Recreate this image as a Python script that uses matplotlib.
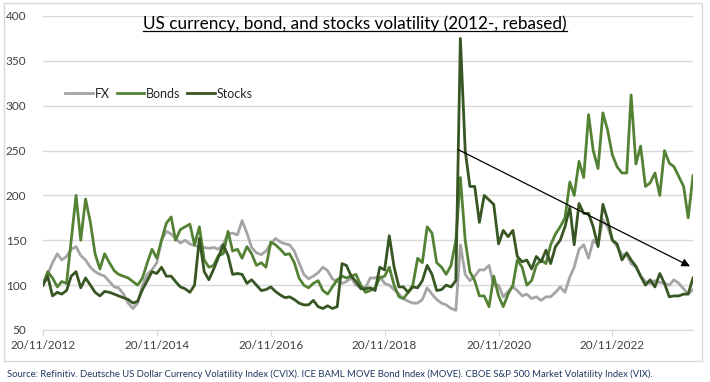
import matplotlib
matplotlib.use('Agg')
import matplotlib.pyplot as plt
import matplotlib.dates as mdates
from matplotlib.lines import Line2D
from matplotlib.patches import Rectangle
import pandas as pd

plt.rcParams['font.family'] = ['Lato', 'DejaVu Sans']

# monthly readings (20th of each month), rebased to 100 at 20/11/2012
start_date = '2012-11-20'

fx = [102, 112, 125, 135, 128, 132, 140, 143, 133, 128, 120, 115, 112, 110, 104, 98, 97, 90, 80, 74,
      80, 100, 112, 117, 125, 150, 160, 157, 152, 147, 150, 146, 144, 143, 142, 141, 142, 140, 146, 157,
      158, 156, 172, 158, 142, 136, 134, 138, 146, 152, 148, 146, 145, 138, 125, 112, 107, 110, 114, 120,
      116, 107, 104, 102, 104, 108, 100, 98, 97, 108, 108, 110, 102, 100, 95, 90, 85, 82, 80, 80,
      84, 97, 90, 84, 80, 78, 74, 72, 145, 112, 105, 110, 117, 117, 122, 100, 100, 87, 93, 98,
      94, 88, 90, 85, 87, 83, 87, 87, 92, 98, 92, 109, 120, 140, 145, 130, 150, 145, 173, 165,
      150, 143, 134, 134, 124, 120, 110, 104, 102, 105, 103, 102, 100, 106, 102, 96, 90, 95]

bonds = [100, 115, 108, 98, 104, 102, 150, 200, 150, 196, 170, 135, 118, 135, 125, 116, 112, 110, 108, 104,
         100, 108, 125, 140, 130, 150, 169, 176, 150, 162, 165, 168, 145, 165, 128, 120, 122, 133, 135, 160,
         138, 140, 130, 143, 135, 122, 125, 120, 148, 145, 140, 134, 135, 125, 108, 100, 97, 102, 105, 94,
         90, 98, 106, 110, 108, 110, 112, 100, 92, 94, 97, 108, 110, 120, 100, 87, 85, 92, 100, 130,
         125, 165, 158, 125, 120, 112, 122, 150, 220, 150, 115, 105, 88, 88, 76, 110, 88, 76, 90, 100,
         128, 120, 100, 105, 122, 128, 124, 145, 157, 165, 175, 215, 200, 238, 220, 290, 250, 230, 292, 273,
         245, 232, 225, 225, 312, 235, 255, 210, 214, 225, 200, 250, 236, 232, 221, 210, 175, 222]

stocks = [100, 110, 88, 92, 90, 94, 110, 115, 97, 108, 100, 92, 88, 93, 92, 90, 88, 86, 84, 80,
          82, 95, 105, 115, 113, 120, 110, 110, 104, 98, 96, 92, 100, 152, 115, 106, 118, 131, 145, 133,
          112, 113, 112, 102, 106, 100, 94, 95, 98, 93, 89, 86, 87, 84, 80, 78, 78, 83, 76, 74,
          77, 74, 76, 124, 122, 110, 104, 96, 96, 97, 94, 120, 117, 155, 120, 98, 98, 92, 98, 97,
          105, 122, 112, 94, 95, 100, 98, 105, 375, 250, 210, 210, 170, 200, 195, 190, 146, 161, 154, 161,
          132, 126, 128, 118, 132, 126, 139, 124, 143, 150, 165, 187, 145, 191, 180, 180, 165, 143, 190, 173,
          150, 146, 128, 136, 128, 121, 110, 100, 106, 98, 113, 102, 87, 88, 88, 90, 90, 108]

tick_dates = ['2012-11-20', '2014-11-20', '2016-11-20', '2018-11-20', '2020-11-20', '2022-11-20']

# trend arrow drawn on the chart
arrow_from = ('2020-03-07', 251)
arrow_to = ('2024-04-01', 121)

title = 'US currency, bond, and stocks volatility (2012-, rebased)'
source = ('Source: Refinitiv. Deutsche US Dollar Currency Volatility Index (CVIX). '
          'ICE BAML MOVE Bond Index (MOVE). CBOE S&P 500 Market Volatility Index (VIX).')

dates = pd.date_range(start_date, periods=len(fx), freq=pd.DateOffset(months=1))

fig = plt.figure(figsize=(7.1, 3.82), dpi=100)
ax = fig.add_axes([43 / 710, 1 - 330 / 382, 650 / 710, 314 / 382])

ax.plot(dates, fx, color='#A5A5A5', lw=2.0, label='FX')
ax.plot(dates, bonds, color='#548235', lw=2.0, label='Bonds')
ax.plot(dates, stocks, color='#375623', lw=2.0, label='Stocks')

ax.annotate('', xy=(pd.Timestamp(arrow_to[0]), arrow_to[1]),
            xytext=(pd.Timestamp(arrow_from[0]), arrow_from[1]),
            arrowprops=dict(arrowstyle='-|>', color='black', lw=0.9, mutation_scale=12,
                            shrinkA=0, shrinkB=0))

ax.set_ylim(50, 400)
ax.set_yticks(range(50, 401, 50))
ax.set_xlim(dates[0], dates[-1])
ax.set_xticks(pd.to_datetime(tick_dates))
ax.xaxis.set_major_formatter(mdates.DateFormatter('%d/%m/%Y'))

ax.grid(axis='y', color='#D9D9D9', lw=1)
ax.set_axisbelow(True)
for s in ['left', 'right', 'top']:
    ax.spines[s].set_visible(False)
ax.spines['bottom'].set_color('#D9D9D9')
ax.tick_params(axis='y', length=0, pad=12, labelsize=8.5, labelcolor='#404040')
ax.tick_params(axis='x', length=4, color='#D9D9D9', pad=3, labelsize=8.5, labelcolor='#404040')

leg = ax.legend(loc='upper left', bbox_to_anchor=(0.017, 0.808), ncol=3, frameon=False,
                fontsize=9, handlelength=2.2, handletextpad=0.15, columnspacing=0.55,
                labelcolor='#262626')

t = fig.text(0.5, 0.938, title, ha='center', va='center', fontsize=12.3, color='black')
fig.text(7 / 710, 1 - 374 / 382, source, ha='left', va='center', fontsize=6.8, color='#1F3864')

# chart area border
fig.patches.append(Rectangle((4 / 710, 1 - 361 / 382), 698 / 710, 358 / 382,
                             transform=fig.transFigure, fill=False, edgecolor='#D9D9D9', lw=1))

# underline the title
fig.canvas.draw()
bb = t.get_window_extent().transformed(fig.transFigure.inverted())
fig.lines.append(Line2D([bb.x0, bb.x1], [bb.y0 + 0.002, bb.y0 + 0.002],
                        transform=fig.transFigure, color='black', lw=0.9))

fig.savefig('out.png', dpi=100)
